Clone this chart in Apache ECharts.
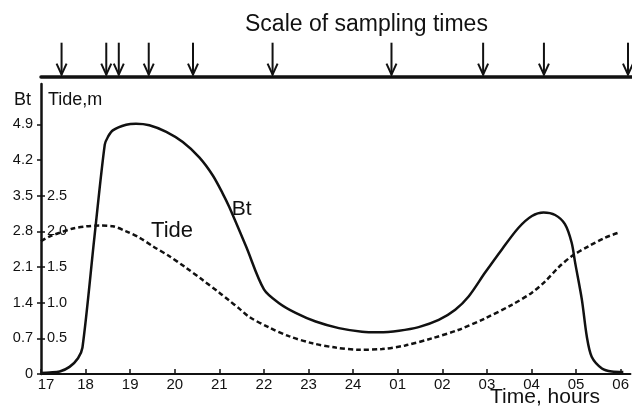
<!DOCTYPE html>
<html>
<head>
<meta charset="utf-8">
<script src="https://cdn.jsdelivr.net/npm/echarts@6/dist/echarts.min.js"></script>
<style>html,body{margin:0;padding:0;background:#fff}#c{width:632px;height:416px}</style>
</head>
<body>
<div id="c"></div>
<script>
// ---- data ----
const hourTicks  = [17,18,19,20,21,22,23,24,25,26,27,28,29,30];
const hourLabels = ['17','18','19','20','21','22','23','24','01','02','03','04','05','06'];
const btTicks    = [0,0.7,1.4,2.1,2.8,3.5,4.2,4.9];
const btLabels   = ['0','0.7','1.4','2.1','2.8','3.5','4.2','4.9'];
const tideTicks  = [0.5,1.0,1.5,2.0,2.5];
const tideLabels = ['0.5','1.0','1.5','2.0','2.5'];

const btHours  = [17.0,17.2,17.42,17.64,17.83,17.93,18.2,18.43,18.5,18.61,18.91,19.13,19.43,19.81,20.18,20.55,20.85,21.07,21.22,21.6,22.0,22.34,22.71,23.16,23.68,24.2,24.58,25.03,25.47,25.92,26.29,26.59,26.96,27.34,27.71,28.01,28.27,28.53,28.75,28.9,28.98,29.13,29.24,29.35,29.58,29.8,30.06];
const btValues = [0.02,0.03,0.05,0.14,0.31,0.52,2.7,4.5,4.65,4.78,4.89,4.91,4.88,4.75,4.55,4.25,3.9,3.55,3.28,2.5,1.66,1.39,1.2,1.03,0.9,0.83,0.82,0.85,0.92,1.06,1.26,1.52,1.99,2.45,2.87,3.1,3.17,3.12,2.94,2.58,2.18,1.46,0.74,0.34,0.11,0.05,0.04];

const tideHours  = [17.0,17.2,17.42,17.72,18.02,18.31,18.61,18.91,19.21,19.51,19.88,20.25,20.62,21.0,21.22,21.44,21.67,22.12,22.56,23.09,23.61,24.13,24.65,25.17,25.77,26.37,26.96,27.56,28.01,28.31,28.6,28.9,29.28,29.65,29.95];
const tideValues = [1.86,1.93,1.98,2.04,2.07,2.08,2.07,2.0,1.91,1.79,1.65,1.49,1.32,1.14,1.03,0.92,0.8,0.65,0.53,0.43,0.37,0.34,0.35,0.4,0.5,0.62,0.78,0.97,1.14,1.3,1.49,1.65,1.79,1.91,1.98];

const sampleTimes = [17.46,18.46,18.74,19.41,20.40,22.18,24.84,26.89,28.25,30.13];

// ---- chart ----
const FONT = 'Liberation Sans, Arial, sans-serif';
const INK = '#111';
const chart = echarts.init(document.getElementById('c'), null, {renderer:'canvas'});
const zip = (a,b) => a.map((v,i)=>[v,b[i]]);

chart.setOption({
  backgroundColor:'#fff',
  animation:false,
  title:{text:'Scale of sampling times', left:245, top:13, padding:0,
    textStyle:{fontFamily:FONT, fontSize:23, fontWeight:'normal', color:INK}},
  grid:[
    {left:41, right:0, top:84, bottom:42},
    {left:41, right:0, top:40, bottom:339.3}
  ],
  xAxis:[
    {type:'value', gridIndex:0, min:17, max:30.22,
     axisLine:{lineStyle:{color:INK, width:2}},
     axisTick:{show:true, inside:true, length:5, customValues:hourTicks, lineStyle:{color:INK, width:1.5}},
     axisLabel:{customValues:hourTicks, margin:3, color:INK, fontFamily:FONT, fontSize:15,
       formatter:(v)=>{const i=hourTicks.indexOf(Math.round(v)); const s=hourLabels[i]; return i===0?'{f|'+s+'}':s;},
       rich:{f:{padding:[0,0,0,10], fontFamily:FONT, fontSize:15, color:INK}}},
     splitLine:{show:false}},
    {type:'value', gridIndex:1, min:17, max:30.22,
     axisLine:{lineStyle:{color:INK, width:3.5}},
     axisTick:{show:false}, axisLabel:{show:false}, splitLine:{show:false}}
  ],
  yAxis:[
    {type:'value', gridIndex:0, position:'left', min:0, max:5.69,
     axisLine:{show:true, lineStyle:{color:INK, width:2.5}},
     axisTick:{show:true, length:4, customValues:btTicks, lineStyle:{color:INK, width:1.5}},
     axisLabel:{customValues:btTicks, margin:8, color:INK, fontFamily:FONT, fontSize:14.5,
       formatter:(v)=>btLabels[btTicks.findIndex(t=>Math.abs(t-v)<1e-6)]},
     splitLine:{show:false}},
    {type:'value', gridIndex:0, position:'left', min:0, max:4.064,
     axisLine:{show:false},
     axisTick:{show:true, inside:true, length:4, customValues:tideTicks, lineStyle:{color:INK, width:1.5}},
     axisLabel:{inside:true, customValues:tideTicks, margin:6, color:INK, fontFamily:FONT, fontSize:14.5,
       formatter:(v)=>tideLabels[tideTicks.findIndex(t=>Math.abs(t-v)<1e-6)]},
     splitLine:{show:false}},
    {type:'value', gridIndex:1, min:0, max:1, show:false}
  ],
  series:[
    {name:'Bt', type:'line', xAxisIndex:0, yAxisIndex:0, data:zip(btHours,btValues),
     smooth:0.3, showSymbol:false, symbol:'none',
     lineStyle:{color:INK, width:2.5},
     markPoint:{symbol:'circle', symbolSize:0, silent:true,
       data:[{coord:[21.5,3.24], label:{show:true, position:'inside', formatter:'Bt', fontFamily:FONT, fontSize:21, color:INK}}]}},
    {name:'Tide', type:'line', xAxisIndex:0, yAxisIndex:1, data:zip(tideHours,tideValues),
     smooth:0.3, showSymbol:false, symbol:'none',
     lineStyle:{color:INK, width:2.5, type:[5,3]},
     markPoint:{symbol:'circle', symbolSize:0, silent:true,
       data:[{coord:[19.94,2.0], label:{show:true, position:'inside', formatter:'Tide', fontFamily:FONT, fontSize:22, color:INK}}]}},
    {name:'samples', type:'custom', xAxisIndex:1, yAxisIndex:2, data:sampleTimes.map(t=>[t,0]),
     clip:false,
     renderItem:(params, api)=>{
       const p = api.coord([api.value(0), 0]);
       const x = p[0], tip = p[1]-2;
       return {type:'group', children:[
         {type:'line', shape:{x1:x, y1:tip-32, x2:x, y2:tip}, style:{stroke:INK, lineWidth:2}},
         {type:'polyline', shape:{points:[[x-5,tip-11],[x,tip],[x+5,tip-11]]}, style:{stroke:INK, lineWidth:2, fill:null}}
       ]};
     }}
  ],
  graphic:[
    {type:'text', left:14, top:91, style:{text:'Bt', fontFamily:FONT, fontSize:18, fill:INK}},
    {type:'text', left:48, top:91, style:{text:'Tide,m', fontFamily:FONT, fontSize:18, fill:INK}},
    {type:'text', left:490, top:387, style:{text:'Time, hours', fontFamily:FONT, fontSize:21, fill:INK}}
  ]
});
</script>
</body>
</html>
